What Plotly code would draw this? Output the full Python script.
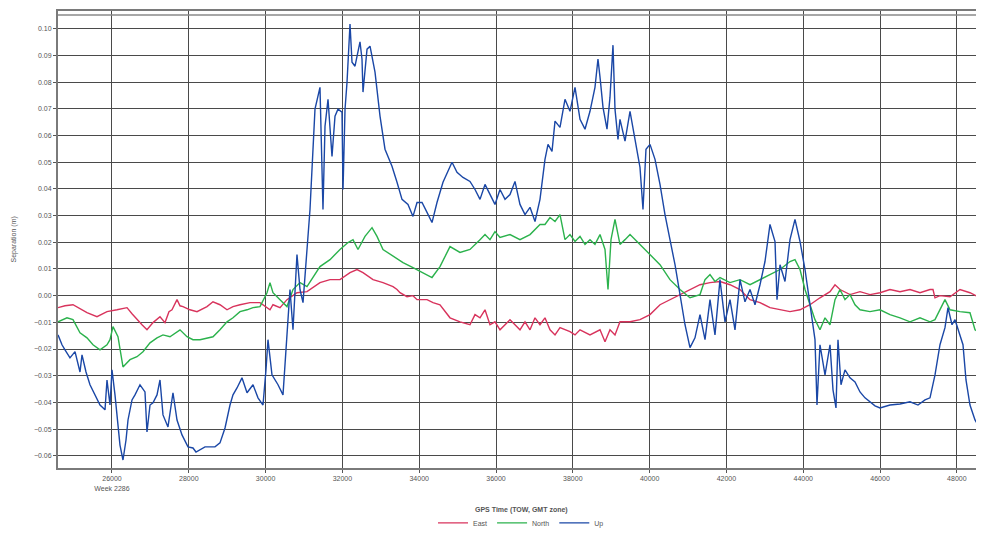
import plotly.graph_objects as go

# ---------------- data ----------------
tick_vals = [26000, 28000, 30000, 32000, 34000, 36000, 38000, 40000, 42000, 44000, 46000, 48000]
tick_text = ["26000<br>Week 2286", "28000", "30000", "32000", "34000", "36000", "38000",
             "40000", "42000", "44000", "46000", "48000"]

east_t = [24594, 24776, 24984, 25167, 25349, 25609, 25870, 26130, 26391, 26521,
          26651, 26781, 26911, 27068, 27250, 27380, 27484, 27562, 27693, 27771,
          27849, 28031, 28213, 28474, 28630, 28812, 28995, 29151, 29333, 29594,
          29854, 30114, 30192, 30375, 30557, 30817, 31078, 31416, 31677, 31937,
          32198, 32380, 32536, 32797, 33057, 33318, 33422, 33500, 33682, 33838,
          33943, 34203, 34359, 34541, 34802, 35062, 35322, 35453, 35583, 35713,
          35843, 35973, 36104, 36364, 36494, 36624, 36755, 36885, 37015, 37145,
          37275, 37406, 37536, 37666, 37926, 38057, 38187, 38447, 38708, 38838,
          38968, 39098, 39228, 39489, 39749, 40010, 40270, 40530, 40791, 41051,
          41312, 41572, 41832, 42093, 42353, 42614, 42874, 43134, 43395, 43655,
          43916, 44176, 44436, 44697, 44827, 44957, 45218, 45478, 45738, 45999,
          46259, 46520, 46780, 47040, 47301, 47379, 47431, 47561, 47822, 48082,
          48342, 48603, 48707]
east_v = [-0.0045, -0.0038, -0.0034, -0.0049, -0.0064, -0.0079, -0.0060, -0.0053, -0.0045, -0.0068,
          -0.0090, -0.0109, -0.0128, -0.0101, -0.0079, -0.0101, -0.0060, -0.0053, -0.0015, -0.0038,
          -0.0041, -0.0053, -0.0060, -0.0041, -0.0023, -0.0034, -0.0053, -0.0041, -0.0034, -0.0026,
          -0.0026, -0.0053, -0.0034, -0.0045, -0.0015, 0.0011, 0.0015, 0.0049, 0.0060, 0.0060,
          0.0086, 0.0098, 0.0086, 0.0060, 0.0049, 0.0034, 0.0023, 0.0011, -0.0004, 0.0000,
          -0.0015, -0.0015, -0.0026, -0.0034, -0.0083, -0.0098, -0.0109, -0.0071, -0.0083, -0.0053,
          -0.0109, -0.0098, -0.0128, -0.0090, -0.0109, -0.0128, -0.0098, -0.0128, -0.0083, -0.0109,
          -0.0083, -0.0128, -0.0147, -0.0120, -0.0135, -0.0147, -0.0128, -0.0147, -0.0128, -0.0173,
          -0.0128, -0.0147, -0.0098, -0.0098, -0.0090, -0.0071, -0.0034, -0.0015, 0.0004, 0.0023,
          0.0041, 0.0049, 0.0053, 0.0041, 0.0023, -0.0015, -0.0026, -0.0045, -0.0053, -0.0060,
          -0.0053, -0.0034, -0.0008, 0.0015, 0.0041, 0.0023, 0.0004, 0.0015, 0.0004, 0.0011,
          0.0023, 0.0015, 0.0023, 0.0011, 0.0023, 0.0023, -0.0008, 0.0000, -0.0004, 0.0023,
          0.0011, -0.0008, -0.0004]

north_t = [24594, 24828, 24984, 25167, 25349, 25505, 25688, 25870, 25948, 26026,
           26156, 26286, 26469, 26651, 26807, 26990, 27172, 27328, 27510, 27693,
           27771, 27953, 28109, 28292, 28474, 28630, 28812, 28995, 29151, 29333,
           29516, 29672, 29854, 30036, 30114, 30192, 30375, 30557, 30713, 30896,
           31078, 31416, 31677, 31937, 32146, 32276, 32406, 32588, 32771, 32901,
           33057, 33318, 33578, 33838, 34099, 34333, 34541, 34802, 35062, 35322,
           35583, 35713, 35843, 35973, 36104, 36364, 36624, 36885, 37145, 37275,
           37406, 37536, 37666, 37796, 37926, 38057, 38187, 38317, 38447, 38577,
           38708, 38838, 38916, 38994, 39098, 39228, 39359, 39489, 39749, 40010,
           40270, 40530, 40791, 41051, 41312, 41442, 41572, 41702, 41832, 42093,
           42353, 42614, 42874, 43134, 43395, 43655, 43785, 43916, 44046, 44176,
           44306, 44436, 44567, 44697, 44827, 44957, 45087, 45218, 45348, 45478,
           45738, 45999, 46259, 46520, 46780, 47040, 47301, 47431, 47691, 47822,
           48082, 48342, 48473, 48707]
north_v = [-0.0098, -0.0083, -0.0090, -0.0139, -0.0158, -0.0184, -0.0203, -0.0184, -0.0165, -0.0116,
           -0.0154, -0.0267, -0.0240, -0.0229, -0.0210, -0.0177, -0.0158, -0.0147, -0.0154, -0.0135,
           -0.0128, -0.0154, -0.0165, -0.0165, -0.0158, -0.0154, -0.0128, -0.0098, -0.0083, -0.0060,
           -0.0053, -0.0045, -0.0041, 0.0011, 0.0049, 0.0011, -0.0015, -0.0041, 0.0023, 0.0049,
           0.0034, 0.0109, 0.0135, 0.0173, 0.0199, 0.0210, 0.0173, 0.0222, 0.0255, 0.0222,
           0.0173, 0.0147, 0.0124, 0.0105, 0.0086, 0.0068, 0.0109, 0.0184, 0.0162, 0.0173,
           0.0210, 0.0229, 0.0210, 0.0240, 0.0218, 0.0229, 0.0210, 0.0229, 0.0267, 0.0267,
           0.0293, 0.0278, 0.0304, 0.0210, 0.0229, 0.0203, 0.0222, 0.0192, 0.0210, 0.0192,
           0.0229, 0.0173, 0.0023, 0.0210, 0.0286, 0.0192, 0.0210, 0.0229, 0.0192, 0.0154,
           0.0116, 0.0060, 0.0023, -0.0008, 0.0004, 0.0060, 0.0079, 0.0053, 0.0068, 0.0049,
           0.0060, 0.0041, 0.0060, 0.0079, 0.0098, 0.0128, 0.0135, 0.0098, 0.0023, -0.0034,
           -0.0090, -0.0128, -0.0083, -0.0109, -0.0015, 0.0023, -0.0015, 0.0004, -0.0034, -0.0053,
           -0.0060, -0.0053, -0.0071, -0.0083, -0.0098, -0.0083, -0.0098, -0.0090, -0.0015, -0.0053,
           -0.0060, -0.0064, -0.0128, -0.0147]

up_t = [24594, 24698, 24776, 24906, 25037, 25115, 25167, 25219, 25323, 25427,
        25557, 25688, 25818, 25870, 25948, 26000, 26078, 26156, 26208, 26286,
        26365, 26417, 26521, 26599, 26729, 26859, 26911, 26990, 27068, 27172,
        27250, 27328, 27458, 27588, 27693, 27823, 27979, 28109, 28187, 28422,
        28682, 28812, 28943, 29073, 29151, 29255, 29385, 29516, 29672, 29802,
        29932, 30010, 30062, 30166, 30323, 30453, 30557, 30635, 30713, 30817,
        30896, 30974, 31078, 31156, 31286, 31416, 31494, 31547, 31625, 31729,
        31807, 31885, 31989, 32016, 32068, 32120, 32198, 32250, 32328, 32458,
        32510, 32536, 32641, 32719, 32849, 32979, 33109, 33291, 33422, 33552,
        33708, 33838, 33943, 34073, 34203, 34333, 34463, 34619, 34854, 34984,
        35140, 35322, 35453, 35583, 35713, 35843, 35973, 36104, 36234, 36364,
        36494, 36624, 36755, 36885, 37015, 37145, 37275, 37354, 37458, 37536,
        37666, 37796, 37926, 38057, 38187, 38317, 38447, 38577, 38655, 38708,
        38786, 38890, 38968, 39046, 39098, 39176, 39228, 39359, 39489, 39619,
        39749, 39827, 39905, 40010, 40140, 40270, 40400, 40530, 40661, 40791,
        40921, 41051, 41181, 41312, 41442, 41572, 41702, 41832, 41963, 42093,
        42223, 42353, 42483, 42614, 42744, 42874, 43004, 43134, 43265, 43317,
        43395, 43525, 43655, 43785, 43916, 44046, 44176, 44306, 44358, 44436,
        44567, 44697, 44775, 44853, 44905, 44983, 45087, 45218, 45348, 45478,
        45608, 45738, 45869, 45999, 46259, 46520, 46780, 46988, 47171, 47301,
        47431, 47561, 47691, 47769, 47874, 47952, 48082, 48160, 48238, 48342,
        48473, 48603, 48707]
up_v = [-0.0147, -0.0184, -0.0203, -0.0233, -0.0210, -0.0259, -0.0286, -0.0222, -0.0286, -0.0334,
        -0.0372, -0.0410, -0.0428, -0.0316, -0.0410, -0.0278, -0.0372, -0.0503, -0.0560, -0.0616,
        -0.0541, -0.0466, -0.0391, -0.0372, -0.0334, -0.0361, -0.0511, -0.0410, -0.0402, -0.0372,
        -0.0316, -0.0447, -0.0492, -0.0364, -0.0466, -0.0522, -0.0567, -0.0571, -0.0586, -0.0567,
        -0.0567, -0.0552, -0.0496, -0.0410, -0.0372, -0.0346, -0.0308, -0.0364, -0.0334, -0.0383,
        -0.0410, -0.0278, -0.0165, -0.0297, -0.0334, -0.0372, -0.0128, 0.0023, -0.0128, 0.0154,
        0.0023, -0.0026, 0.0173, 0.0323, 0.0699, 0.0781, 0.0323, 0.0635, 0.0736, 0.0522,
        0.0673, 0.0699, 0.0688, 0.0398, 0.0699, 0.0800, 0.1018, 0.0875, 0.0860, 0.0951,
        0.0887, 0.0763, 0.0924, 0.0935, 0.0838, 0.0673, 0.0549, 0.0485, 0.0425, 0.0361,
        0.0342, 0.0297, 0.0349, 0.0349, 0.0312, 0.0274, 0.0349, 0.0425, 0.0500, 0.0462,
        0.0443, 0.0428, 0.0398, 0.0361, 0.0417, 0.0379, 0.0342, 0.0398, 0.0361, 0.0379,
        0.0428, 0.0342, 0.0304, 0.0331, 0.0278, 0.0361, 0.0511, 0.0567, 0.0541, 0.0654,
        0.0631, 0.0736, 0.0691, 0.0781, 0.0661, 0.0624, 0.0691, 0.0781, 0.0887, 0.0819,
        0.0706, 0.0624, 0.0744, 0.0939, 0.0699, 0.0586, 0.0661, 0.0579, 0.0691, 0.0586,
        0.0481, 0.0323, 0.0549, 0.0567, 0.0511, 0.0417, 0.0304, 0.0210, 0.0116, 0.0004,
        -0.0109, -0.0195, -0.0158, -0.0071, -0.0165, -0.0015, -0.0147, 0.0060, -0.0098, -0.0015,
        -0.0128, 0.0060, -0.0023, 0.0023, -0.0034, 0.0041, 0.0128, 0.0267, 0.0203, -0.0015,
        0.0116, 0.0053, 0.0210, 0.0286, 0.0203, 0.0098, -0.0034, -0.0165, -0.0410, -0.0184,
        -0.0297, -0.0184, -0.0353, -0.0421, -0.0165, -0.0334, -0.0278, -0.0308, -0.0323, -0.0361,
        -0.0383, -0.0398, -0.0413, -0.0421, -0.0410, -0.0406, -0.0398, -0.0410, -0.0391, -0.0383,
        -0.0297, -0.0184, -0.0120, -0.0045, -0.0109, -0.0090, -0.0147, -0.0184, -0.0316, -0.0410,
        -0.0466, -0.0496, -0.0488]

series_names = ["East", "North", "Up"]
series_colors = ["#d8335c", "#2bb24c", "#1a47a6"]

# ---------------- figure ----------------
# The page body adds an 8px offset, so the figure is 8px smaller and shifted.
FONT = "Liberation Sans, Arial, sans-serif"
fig = go.Figure()
for name, t, v, c in zip(series_names, [east_t, north_t, up_t], [east_v, north_v, up_v], series_colors):
    fig.add_trace(go.Scatter(x=t, y=v, mode="lines", name=name,
                             line=dict(color=c, width=1.4)))

grid_c = "#4a4a4a"
fig.update_layout(
    width=976, height=525,
    margin=dict(l=50, r=0, t=3, b=65, autoexpand=False),
    paper_bgcolor="white", plot_bgcolor="white",
    font=dict(family=FONT, size=7, color="#444"),
    showlegend=True,
    legend=dict(orientation="h", x=0.5, xanchor="center", y=-0.12, yanchor="middle",
                font=dict(size=7, color="#555"), itemwidth=30, tracegroupgap=0,
                bgcolor="rgba(0,0,0,0)"),
    xaxis=dict(range=[24594, 48707], tickmode="array", tickvals=tick_vals, ticktext=tick_text,
               automargin=False,
               showgrid=True, gridcolor=grid_c, gridwidth=1, zeroline=False,
               showline=True, linecolor="#7a7a7a", linewidth=2, mirror=True,
               ticks="outside", ticklen=3, tickcolor="#555",
               tickfont=dict(size=7, color="#555")),
    yaxis=dict(range=[-0.0646, 0.1067], tickmode="linear", tick0=0, dtick=0.01,
               automargin=False,
               tickformat=".2f", showgrid=True, gridcolor=grid_c, gridwidth=1,
               zeroline=False, showline=True, linecolor="#7a7a7a", linewidth=2, mirror=True,
               ticks="outside", ticklen=3, tickcolor="#555",
               tickfont=dict(size=7, color="#555")),
)

# second line of the double top border
fig.add_shape(type="line", xref="paper", yref="paper", x0=0, x1=1, y0=0.9915, y1=0.9915,
              line=dict(color="#8a8a8a", width=1.5))

fig.add_annotation(text="<b>GPS Time (TOW, GMT zone)</b>", xref="paper", yref="paper",
                   x=0.5, y=-0.092, xanchor="center", yanchor="middle", showarrow=False,
                   font=dict(size=7, color="#555"))
fig.add_annotation(text="Separation (m)", xref="paper", yref="paper", x=0, y=0.5,
                   xshift=-45, textangle=-90, xanchor="center", yanchor="middle",
                   showarrow=False, font=dict(size=7, color="#555"))

fig.write_html("out.html")
